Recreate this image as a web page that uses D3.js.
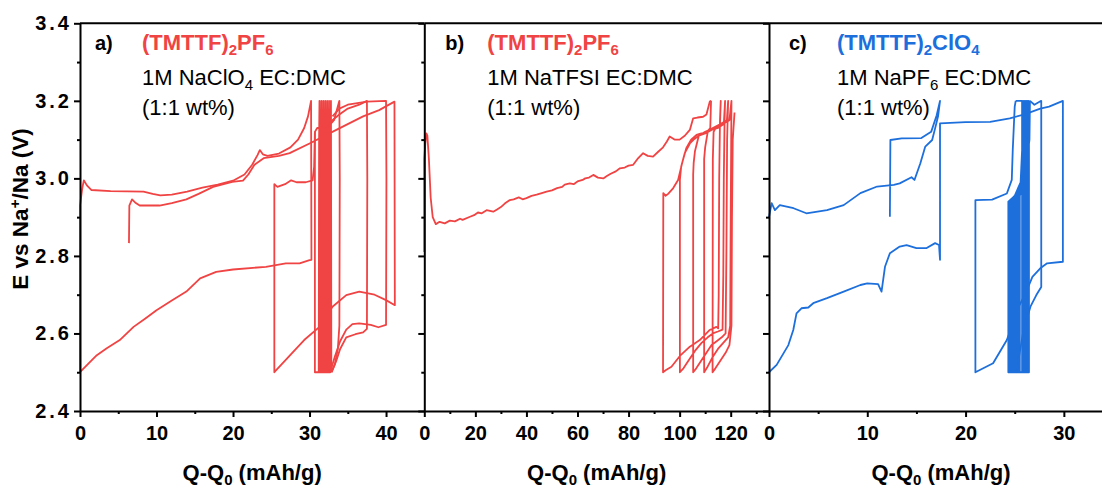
<!DOCTYPE html>
<html><head><meta charset="utf-8">
<script src="https://cdn.jsdelivr.net/npm/d3@7"></script>
<style>
body{margin:0;background:#fff}
svg{display:block}
text{font-family:"Liberation Sans",Arial,Helvetica,sans-serif}
</style>
</head><body>
<svg id="chart" width="1102" height="488"></svg>
<script>
// ---------------- DATA ----------------
const yMajor = [2.4, 2.6, 2.8, 3.0, 3.2, 3.4];
const yMinor = [2.5, 2.7, 2.9, 3.1, 3.3];
const aMajor = [0, 10, 20, 30, 40];
const aMinor = [5, 15, 25, 35];
const bMajor = [0, 20, 40, 60, 80, 100, 120];
const bMinor = [10, 30, 50, 70, 90, 110, 130];
const cMajor = [0, 10, 20, 30];
const cMinor = [5, 15, 25];
const xDomainA = [0, 45];
const xDomainB = [0, 135];
const xDomainC = [0, 35];

const panelLetters = ["a)", "b)", "c)"];
const compoundA = ["(TMTTF)", "2", "PF", "6"];
const compoundB = ["(TMTTF)", "2", "PF", "6"];
const compoundC = ["(TMTTF)", "2", "ClO", "4"];
const electrolyteA = ["1M NaClO", "4", " EC:DMC"];
const electrolyteB = ["1M NaTFSI EC:DMC", "", ""];
const electrolyteC = ["1M NaPF", "6", " EC:DMC"];
const ratioText = "(1:1 wt%)";
const xTitle = ["Q-Q", "0", " (mAh/g)"];
const yTitle = ["E vs Na", "+", "/Na (V)"];

// Panel a : (Q, E) polylines
const a_cycle1 = [[0,2.5],[0,2.93],[0.3,2.975],[0.5,2.995],[0.9,2.982],[1.5,2.97],[4,2.967],[8.3,2.966],[9.5,2.96],[10.5,2.956],[12,2.958],[14,2.966],[16,2.976],[18,2.984],[20,2.994],[21.5,3.01],[22.5,3.035],[23.2,3.06],[23.5,3.073],[23.9,3.062],[24.5,3.058],[26,3.064],[27.5,3.08],[28.5,3.1],[29.3,3.13],[29.8,3.16],[30.2,3.2],[30.25,2.79],[30,2.789],[28.7,2.781],[26.9,2.781],[24.3,2.772],[20,2.765],[17.8,2.759],[15.7,2.742],[13.9,2.708],[12,2.685],[10,2.66],[8.5,2.638],[7,2.617],[5.2,2.583],[3.5,2.562],[2.2,2.544],[1,2.52],[0,2.5]];
const a_cycle2 = [[6.4,2.833],[6.45,2.93],[6.8,2.946],[7.2,2.938],[7.8,2.93],[10.4,2.93],[12,2.936],[13.9,2.946],[15.5,2.96],[17.4,2.978],[19.9,2.991],[21.3,2.994],[22,3.01],[22.8,3.035],[24,3.052],[26,3.058],[27.4,3.065],[30,3.09],[33.5,3.125],[37,3.16],[39.1,3.176],[41.1,3.198],[41.15,2.673],[40,2.686],[38.5,2.7],[36.5,2.708],[34.8,2.699],[33,2.669],[31.3,2.617],[29.3,2.583],[27.5,2.545],[25.4,2.5],[25.4,2.985],[25.8,2.978],[26.8,2.985],[27.6,2.995],[28.3,2.99],[29.5,2.99],[30.4,2.995],[30.6,3.03],[30.7,3.12],[31,3.13],[31.5,3.13]];
const a_cluster = [[30.7,3.12],[30.7,2.5],[31.2,2.5],[31.25,3.1],[31.3,3.2],[31.35,2.5],[31.45,2.5],[31.5,3.1],[31.55,3.2],[31.6,2.5],[31.7,2.5],[31.75,3.1],[31.8,3.2],[31.85,2.5],[31.95,2.5],[32.0,3.1],[32.05,3.2],[32.1,2.5],[32.2,2.5],[32.25,3.1],[32.3,3.2],[32.35,2.5],[32.45,2.5],[32.5,3.1],[32.55,3.2],[32.6,2.5],[32.7,2.5],[32.75,3.1],[32.8,3.2],[32.85,2.5]];
const a_cycle34 = [[32.85,2.5],[33.3,2.52],[33.7,2.56],[33.9,2.62],[33.95,3.0],[33.9,3.2],[33.2,3.15],[32.5,3.135],[31.5,3.13]];
const a_cycle375 = [[32.9,2.5],[33.5,2.53],[34,2.56],[34.8,2.59],[36,2.598],[37,2.603],[37.5,2.612],[37.55,3.0],[37.5,3.2],[36.5,3.19],[35,3.18],[33.9,3.165],[33,3.15],[32.5,3.14]];
const a_cycle40 = [[32.7,2.5],[33.3,2.54],[34,2.58],[34.8,2.61],[35.6,2.624],[36.5,2.626],[38,2.622],[39,2.616],[40,2.622],[40.05,3.0],[40,3.2],[37.5,3.198],[35,3.19],[33.9,3.18],[33,3.16]];

// Panel b
const b_charge1 = [[0,2.81],[0,3.05],[0.4,3.09],[0.8,3.116],[1.2,3.11],[1.8,3.05],[2.5,2.95],[3.3,2.9],[4.5,2.882],[6,2.888],[8,2.884],[10,2.891],[12,2.889],[14,2.896],[15,2.893],[17.9,2.901],[19.5,2.905],[21,2.912],[22.5,2.91],[24.4,2.918],[27,2.914],[28.5,2.92],[30,2.926],[31.5,2.935],[33.5,2.944],[35,2.946],[37,2.951],[38.5,2.946],[40,2.949],[42,2.955],[44,2.958],[46,2.962],[47.9,2.966],[50,2.969],[52,2.975],[54,2.978],[55,2.984],[57,2.987],[58.5,2.985],[60,2.992],[62,2.996],[63,3.0],[64.5,3.002],[66.2,3.009],[68,3.002],[70.1,3.0],[71.5,3.006],[73,3.012],[75,3.018],[76.6,3.026],[78.5,3.028],[80,3.033],[81.8,3.035],[83.5,3.05],[85.7,3.065],[87.5,3.058],[89.6,3.056],[91.5,3.068],[93.5,3.08],[95,3.095],[96.1,3.108],[98,3.1],[100,3.1],[102,3.11],[104,3.125],[105.3,3.155],[107,3.157],[109.2,3.159],[110.5,3.165],[111.8,3.198],[112.3,3.2]];
const b_cycles = [[112.3,3.2],[112,3.13],[110.5,3.118],[108.5,3.116],[106.6,3.112],[104.5,3.1],[102.6,3.078],[101,3.04],[99.4,2.996],[97.5,2.975],[95.5,2.96],[94.5,2.955],[93.6,2.962],[93.5,2.5],
 [94.5,2.505],[96.8,2.514],[100.1,2.542],[104,2.566],[107.9,2.583],[111.8,2.609],[114.4,2.617],[115.1,2.613],[115.3,2.7],[115.5,3.0],[115.8,3.15],[116.1,3.2],
 [115.8,3.14],[114,3.13],[112,3.126],[110,3.12],[107.9,3.112],[105.5,3.1],[104,3.09],[102,3.065],[100.6,3.03],[100.1,2.996],[100.1,2.5],
 [101.5,2.51],[103.5,2.53],[106,2.555],[108.5,2.575],[111,2.59],[113,2.6],[115,2.605],[116.8,2.61],[117.1,2.75],[117.3,3.0],[117.6,3.15],[117.8,3.2],
 [117.3,3.14],[115,3.13],[112.5,3.125],[110,3.116],[107.5,3.11],[106,3.07],[105.5,3.04],[105.3,3.01],[105.3,2.5],
 [106.5,2.51],[108.5,2.53],[110.5,2.55],[112.5,2.57],[114.5,2.58],[116.5,2.59],[118,2.6],[118.3,2.8],[118.6,3.1],[119,3.2],
 [118.5,3.15],[116,3.14],[113,3.13],[111,3.12],[110,3.08],[109.6,3.05],[109.6,2.5],
 [111,2.515],[113,2.54],[115,2.56],[117,2.575],[119,2.59],[119.8,2.62],[120,2.9],[120.2,3.1],[120.3,3.2],
 [119.5,3.15],[117,3.14],[114.5,3.135],[113.3,3.12],[113,3.05],[112.9,2.5],
 [114,2.51],[116,2.53],[118,2.55],[119.5,2.57],[120.3,2.62],[120.5,2.9],[120.8,3.1],[121.5,3.17]];

// Panel c
const c_cycle1 = [[0,2.9],[0.27,2.936],[0.6,2.918],[1.1,2.931],[2.5,2.923],[3.8,2.91],[5.9,2.918],[7.6,2.931],[9.3,2.962],[11,2.979],[12.7,2.983],[13.3,2.987],[14.5,3.003],[14.8,2.996],[15.4,3.039],[15.9,3.082],[16.6,3.099],[16.9,3.129],[17.2,3.16],[17.4,3.2],[17.06,3.163],[16.5,3.12],[15.5,3.104],[13.5,3.103],[12.35,3.099],[12.3,2.901]];
const c_cycle2 = [[0,2.5],[0.78,2.519],[1.97,2.57],[2.47,2.609],[2.8,2.652],[3.3,2.665],[4.0,2.667],[4.5,2.678],[5.9,2.691],[7.6,2.708],[9.3,2.725],[10,2.729],[11.1,2.727],[11.45,2.708],[11.8,2.772],[12.3,2.807],[13.3,2.824],[14,2.828],[15,2.82],[16,2.82],[16.9,2.833],[17.3,2.828],[17.4,2.79],[17.4,3.142],[20,3.145],[22.5,3.146],[24.5,3.155],[26,3.165],[27.6,3.18],[28.5,3.185],[29.9,3.2],[29.9,2.785],[28.3,2.781],[27.6,2.768],[26.8,2.746],[26.1,2.703],[25.4,2.669],[24.8,2.626],[24.2,2.583],[22.8,2.523],[21,2.5],[21,2.944],[22.7,2.945],[24.2,2.961],[24.7,2.996],[24.8,3.073],[25,3.185],[25.1,3.2]];
const c_cluster = [[25.1,3.2],[25.75,3.2],[25.75,2.5],[24.35,2.5],[24.35,2.94],[25.0,2.955],[25.6,2.99],[25.8,3.1],[25.85,3.2],[25.85,2.5],[24.5,2.5],[24.5,2.942],[25.1,2.958],[25.65,2.99],[25.9,3.1],[25.95,3.2],[25.95,2.5],[24.68,2.5],[24.68,2.944],[25.2,2.96],[25.7,2.99],[26.0,3.1],[26.05,3.2],[26.05,2.5],[24.85,2.5],[24.85,2.946],[25.3,2.962],[25.75,2.99],[26.1,3.1],[26.15,3.2],[26.15,2.5],[25.02,2.5],[25.02,2.948],[25.4,2.964],[25.8,2.99],[26.2,3.1],[26.25,3.2],[26.25,2.5],[25.2,2.5],[25.2,2.95],[25.5,2.966],[25.85,2.99],[26.3,3.1],[26.35,3.2],[26.35,2.5],[25.36,2.5],[25.36,2.952],[25.9,2.99],[26.4,3.1],[26.45,3.2],[26.45,2.5],[25.52,2.5],[25.52,2.955],[26.0,2.99],[26.5,3.1],[26.55,3.2]];
const c_cycleLast = [[26.55,3.2],[27.0,3.19],[27.7,3.2],[27.7,2.72],[27.2,2.699],[26.6,2.669],[25.9,2.609],[25.5,2.55],[25.2,2.5]];

// ---------------- DRAWING ----------------
const RED = "#f04343";
const BLUE = "#1d6fdc";
const svg = d3.select("#chart");
const y = d3.scaleLinear().domain([2.4, 3.4]).range([411, 23.3]);

const panels = [
  {x0: 80,    x1: 424.3, domain: xDomainA, majors: aMajor, minors: aMinor, color: RED,
   paths: [a_cycle1, a_cycle2, a_cluster, a_cycle34, a_cycle375, a_cycle40],
   letter: panelLetters[0], compound: compoundA, electrolyte: electrolyteA, lx: 15, tx: 62, yLabels: true},
  {x0: 424.3, x1: 769,   domain: xDomainB, majors: bMajor, minors: bMinor, color: RED,
   paths: [b_charge1, b_cycles],
   letter: panelLetters[1], compound: compoundB, electrolyte: electrolyteB, lx: 21, tx: 63, yLabels: false},
  {x0: 769,   x1: 1113,  domain: xDomainC, majors: cMajor, minors: cMinor, color: BLUE,
   paths: [c_cycle1, c_cycle2, c_cluster, c_cycleLast],
   letter: panelLetters[2], compound: compoundC, electrolyte: electrolyteC, lx: 20, tx: 68, yLabels: false}
];

svg.append("rect").attr("width", 1102).attr("height", 488).attr("fill", "#fff");

panels.forEach(p => {
  const x = d3.scaleLinear().domain(p.domain).range([p.x0, p.x1]);
  const g = svg.append("g");

  const line = d3.line().x(d => x(d[0])).y(d => y(d[1]));
  p.paths.forEach(pts => {
    g.append("path").attr("d", line(pts)).attr("fill", "none")
      .attr("stroke", p.color).attr("stroke-width", 1.8).attr("stroke-linejoin", "round");
  });

  // bottom axis
  const bx = g.append("g").attr("transform", `translate(0,${y(2.4)})`)
    .call(d3.axisBottom(x).tickValues(p.majors).tickSize(6).tickSizeOuter(0).tickPadding(9).tickFormat(d3.format("d")));
  bx.selectAll("text").attr("font-size", 20).attr("font-weight", "bold").attr("fill", "#000");
  const bxm = g.append("g").attr("transform", `translate(0,${y(2.4)})`)
    .call(d3.axisBottom(x).tickValues(p.minors).tickSize(3).tickFormat(""));
  bxm.select(".domain").remove();

  // left axis
  const ly = g.append("g").attr("transform", `translate(${p.x0},0)`)
    .call(d3.axisLeft(y).tickValues(yMajor).tickSize(6).tickSizeOuter(0).tickPadding(2)
      .tickFormat(p.yLabels ? d3.format(".1f") : () => ""));
  ly.selectAll("text").attr("font-size", 20).attr("font-weight", "bold").attr("fill", "#000")
    .attr("letter-spacing", 3);
  const lym = g.append("g").attr("transform", `translate(${p.x0},0)`)
    .call(d3.axisLeft(y).tickValues(yMinor).tickSize(3).tickFormat(""));
  lym.select(".domain").remove();

  [bx, bxm, ly, lym].forEach(a => {
    a.selectAll("line").attr("stroke", "#000").attr("stroke-width", 2);
    a.selectAll(".domain").attr("stroke", "#000").attr("stroke-width", 2);
  });

  // top border
  g.append("line").attr("x1", p.x0).attr("x2", p.x1).attr("y1", y(3.4)).attr("y2", y(3.4))
    .attr("stroke", "#000").attr("stroke-width", 2);

  // annotations
  g.append("text").attr("x", p.x0 + p.lx).attr("y", 50).attr("font-size", 20)
    .attr("font-weight", "bold").text(p.letter);

  const t1 = g.append("text").attr("x", p.x0 + p.tx).attr("y", 50).attr("font-size", 22)
    .attr("font-weight", "bold").attr("fill", p.color);
  t1.append("tspan").text(p.compound[0]);
  t1.append("tspan").attr("font-size", 15).attr("dy", 5).text(p.compound[1]);
  t1.append("tspan").attr("dy", -5).text(p.compound[2]);
  t1.append("tspan").attr("font-size", 15).attr("dy", 5).text(p.compound[3]);

  const t2 = g.append("text").attr("x", p.x0 + p.tx).attr("y", 85).attr("font-size", 22).attr("fill", "#000");
  t2.append("tspan").text(p.electrolyte[0]);
  if (p.electrolyte[1]) {
    t2.append("tspan").attr("font-size", 15).attr("dy", 5).text(p.electrolyte[1]);
    t2.append("tspan").attr("dy", -5).text(p.electrolyte[2]);
  }
  g.append("text").attr("x", p.x0 + p.tx).attr("y", 115).attr("font-size", 22).attr("fill", "#000").text(ratioText);

  // x title
  const xt = g.append("text").attr("x", (p.x0 + p.x1) / 2).attr("y", 480).attr("text-anchor", "middle")
    .attr("font-size", 22).attr("font-weight", "bold");
  xt.append("tspan").text(xTitle[0]);
  xt.append("tspan").attr("font-size", 15).attr("dy", 5).text(xTitle[1]);
  xt.append("tspan").attr("dy", -5).text(xTitle[2]);
});

// y title
const yt = svg.append("text").attr("transform", "translate(28,209) rotate(-90)")
  .attr("text-anchor", "middle").attr("font-size", 22.5).attr("font-weight", "bold");
yt.append("tspan").text(yTitle[0]);
yt.append("tspan").attr("font-size", 15).attr("dy", -8).text(yTitle[1]);
yt.append("tspan").attr("dy", 8).text(yTitle[2]);
</script>
</body></html>
